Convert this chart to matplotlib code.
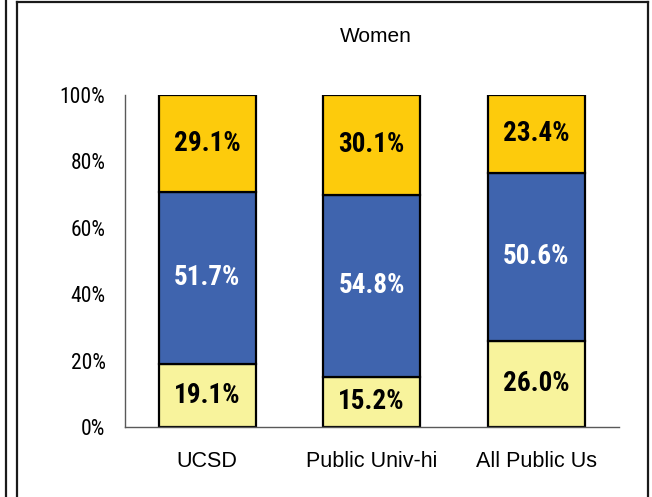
import numpy as np
import matplotlib.pyplot as plt
from matplotlib.lines import Line2D
from matplotlib import font_manager

categories = ['UCSD', 'Public Univ-hi', 'All Public Us']
bottom_vals = [19.1, 15.2, 26.0]
middle_vals = [51.7, 54.8, 50.6]
top_vals = [29.1, 30.1, 23.4]
y_ticks = [0, 20, 40, 60, 80, 100]
y_tick_labels = ['0%', '20%', '40%', '60%', '80%', '100%']

names = {f.name for f in font_manager.fontManager.ttflist}
narrow = [n for n in ['Arial Narrow', 'Liberation Sans Narrow', 'Roboto Condensed',
                      'Archivo Narrow', 'Liberation Sans'] if n in names]

W, H = 652, 497
fig = plt.figure(figsize=(W / 100, H / 100), dpi=100)
ax = fig.add_axes([125 / W, 1 - 427 / H, 493.5 / W, 332 / H])

x = np.arange(len(categories))
width = 0.59
edge = dict(edgecolor='black', linewidth=1.6)
ax.bar(x, bottom_vals, width, color='#F8F39C', **edge)
ax.bar(x, middle_vals, width, bottom=bottom_vals, color='#3F64AE', **edge)
mid_top = np.array(bottom_vals) + np.array(middle_vals)
ax.bar(x, top_vals, width, bottom=mid_top, color='#FDCB0C', **edge)

lbl = dict(ha='center', va='center', fontsize=19.5, fontweight='bold', family=narrow)
for i in range(len(categories)):
    ax.text(x[i], bottom_vals[i] / 2, f'{bottom_vals[i]:.1f}%', color='black', **lbl)
    ax.text(x[i], bottom_vals[i] + middle_vals[i] / 2, f'{middle_vals[i]:.1f}%', color='white', **lbl)
    ax.text(x[i], mid_top[i] + top_vals[i] / 2, f'{top_vals[i]:.1f}%', color='black', **lbl)

ax.set_xlim(-0.5, 2.5)
ax.set_ylim(0, 100)
ax.set_yticks(y_ticks)
ax.set_yticklabels(y_tick_labels, family=narrow, fontsize=15.5)
ax.set_xticks(x)
ax.set_xticklabels(categories, family='Liberation Sans', fontsize=15.5)
ax.tick_params(axis='y', length=0, pad=14)
ax.tick_params(axis='x', length=0, pad=17)
for s in ['top', 'right']:
    ax.spines[s].set_visible(False)
ax.spines['left'].set_color('#595959')
ax.spines['bottom'].set_color('#595959')
ax.spines['left'].set_linewidth(1)
ax.spines['bottom'].set_linewidth(1)

fig.text(376 / W, 1 - 37 / H, 'Women', ha='center', va='center', fontsize=15, family='Liberation Sans')

# surrounding frame lines
def px_line(x0, y0, x1, y1):
    fig.add_artist(Line2D([x0 / W, x1 / W], [1 - y0 / H, 1 - y1 / H], transform=fig.transFigure,
                          color='#1a1a1a', linewidth=1.6))

px_line(6, 0, 6, H)
px_line(17, 2, 17, H)
px_line(17, 2, 648, 2)
px_line(648, 2, 648, H)

fig.savefig('out.png', dpi=100)
